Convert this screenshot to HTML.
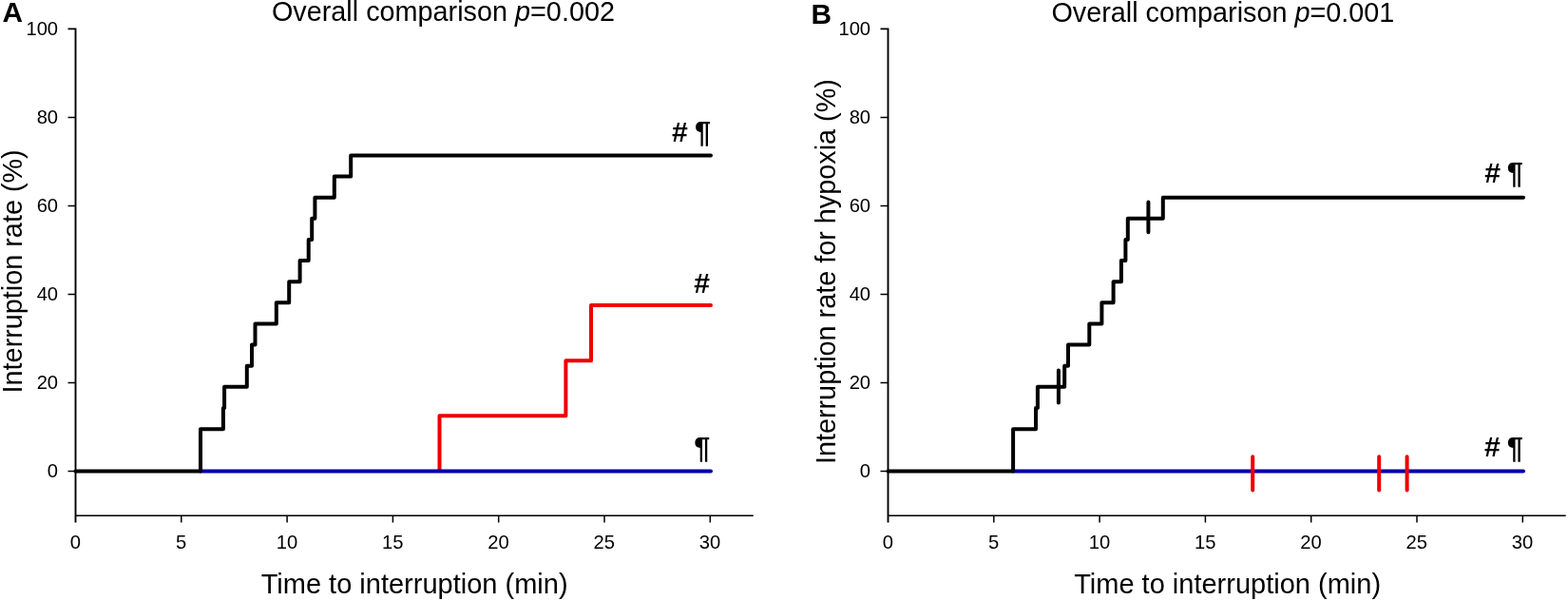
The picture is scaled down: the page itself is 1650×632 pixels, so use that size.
<!DOCTYPE html>
<html><head><meta charset="utf-8"><title>Interruption rate curves</title>
<style>
html,body{margin:0;padding:0;background:#fff;width:1650px;height:632px;overflow:hidden}
svg{display:block}
text{font-family:"Liberation Sans",Arial,sans-serif;fill:#000}
.tk{font-size:20.2px}
.ti{font-size:28.8px}
.pl{font-size:29.8px;font-weight:bold}
.mk{font-size:30.2px;font-weight:bold}
.pk{font-size:30.5px;font-weight:bold}
.xt{font-size:29px}
</style></head><body>
<svg width="1650" height="632" viewBox="0 0 1650 632">
<rect width="1650" height="632" fill="#fff"/>
<path d="M71.50,30.40H79.5V549.50" stroke="#000" stroke-width="1.9" fill="none" stroke-linejoin="miter"/>
<path d="M79.5,542.3H792.8" stroke="#000" stroke-width="1.6" fill="none"/>
<path d="M71.50,495.40H79.5M71.50,402.40H79.5M71.50,309.40H79.5M71.50,216.40H79.5M71.50,123.40H79.5M190.80,542.3V549.50M302.10,542.3V549.50M413.40,542.3V549.50M524.70,542.3V549.50M636.00,542.3V549.50M747.30,542.3V549.50" stroke="#000" stroke-width="1.5" fill="none"/>
<text x="61.10" y="501.50" text-anchor="end" class="tk">0</text>
<text x="61.10" y="408.50" text-anchor="end" class="tk">20</text>
<text x="61.10" y="315.50" text-anchor="end" class="tk">40</text>
<text x="61.10" y="222.50" text-anchor="end" class="tk">60</text>
<text x="61.10" y="129.50" text-anchor="end" class="tk">80</text>
<text x="61.10" y="36.50" text-anchor="end" class="tk">100</text>
<text x="79.30" y="576.8" text-anchor="middle" class="tk">0</text>
<text x="190.60" y="576.8" text-anchor="middle" class="tk">5</text>
<text x="301.90" y="576.8" text-anchor="middle" class="tk">10</text>
<text x="413.20" y="576.8" text-anchor="middle" class="tk">15</text>
<text x="524.50" y="576.8" text-anchor="middle" class="tk">20</text>
<text x="635.80" y="576.8" text-anchor="middle" class="tk">25</text>
<text x="747.10" y="576.8" text-anchor="middle" class="tk">30</text>
<path d="M926.50,30.40H934.5V549.50" stroke="#000" stroke-width="1.9" fill="none" stroke-linejoin="miter"/>
<path d="M934.5,542.3H1647.7" stroke="#000" stroke-width="1.6" fill="none"/>
<path d="M926.50,495.40H934.5M926.50,402.40H934.5M926.50,309.40H934.5M926.50,216.40H934.5M926.50,123.40H934.5M1045.80,542.3V549.50M1157.10,542.3V549.50M1268.40,542.3V549.50M1379.70,542.3V549.50M1491.00,542.3V549.50M1602.30,542.3V549.50" stroke="#000" stroke-width="1.5" fill="none"/>
<text x="916.10" y="501.50" text-anchor="end" class="tk">0</text>
<text x="916.10" y="408.50" text-anchor="end" class="tk">20</text>
<text x="916.10" y="315.50" text-anchor="end" class="tk">40</text>
<text x="916.10" y="222.50" text-anchor="end" class="tk">60</text>
<text x="916.10" y="129.50" text-anchor="end" class="tk">80</text>
<text x="916.10" y="36.50" text-anchor="end" class="tk">100</text>
<text x="934.30" y="576.8" text-anchor="middle" class="tk">0</text>
<text x="1045.60" y="576.8" text-anchor="middle" class="tk">5</text>
<text x="1156.90" y="576.8" text-anchor="middle" class="tk">10</text>
<text x="1268.20" y="576.8" text-anchor="middle" class="tk">15</text>
<text x="1379.50" y="576.8" text-anchor="middle" class="tk">20</text>
<text x="1490.80" y="576.8" text-anchor="middle" class="tk">25</text>
<text x="1602.10" y="576.8" text-anchor="middle" class="tk">30</text>
<path d="M462.5,493.90V437.30H595.40V379.20H622.00V321.10H748.00" stroke="#ee0000" stroke-width="4.0" fill="none" stroke-linecap="round" stroke-linejoin="round"/>
<path d="M211.0,495.40H748" stroke="#0000a8" stroke-width="4.0" fill="none" stroke-linecap="round"/>
<path d="M79.5,495.40H211.00V451.13H234.90V429.00H236.10V406.87H259.80V384.73H265.00V362.60H268.50V340.47H290.80V318.33H304.20V296.20H315.60V274.07H324.70V251.93H328.20V229.80H331.40V207.67H351.80V185.53H369.20V163.40H748.00" stroke="#000" stroke-width="4.0" fill="none" stroke-linecap="round" stroke-linejoin="round"/>
<path d="M1066.1,495.40H1603" stroke="#0000a8" stroke-width="4.0" fill="none" stroke-linecap="round"/>
<path d="M934.5,495.40H1066.10V451.13H1090.00V429.00H1091.90V406.87H1120.20V384.73H1124.00V362.60H1146.30V340.47H1159.40V318.33H1171.60V296.20H1179.90V274.07H1184.40V251.93H1186.80V229.80H1223.80V207.67H1603.00" stroke="#000" stroke-width="4.0" fill="none" stroke-linecap="round" stroke-linejoin="round"/>
<path d="M1113.9,389.6V423.4M1208.4,212.5V244.2" stroke="#000" stroke-width="4.0" fill="none" stroke-linecap="round"/>
<path d="M1318.2,480.2V515.6M1451.2,480.2V515.6M1480.6,480.2V515.6" stroke="#ee0000" stroke-width="4.0" fill="none" stroke-linecap="round"/>
<text x="285.96" y="21.5" class="ti">Overall comparison <tspan font-style="italic">p</tspan>=0.002</text>
<text x="1106.4" y="22.8" class="ti">Overall comparison <tspan font-style="italic">p</tspan>=0.001</text>
<text x="274.7" y="623.9" class="ti xt">Time to interruption (min)</text>
<text x="1130.2" y="624.2" class="ti xt">Time to interruption (min)</text>
<text transform="translate(23.0,413.4) rotate(-90)" class="ti">Interruption rate (%)</text>
<text transform="translate(878.5,488.1) rotate(-90)" class="ti">Interruption rate for hypoxia (%)</text>
<text x="2.5" y="22.6" class="pl">A</text>
<text x="853.5" y="25.1" class="pl">B</text>
<text x="707.0" y="148.7" class="mk">#</text>
<text x="730.2" y="307.7" class="mk">#</text>
<text x="1562.2" y="191.6" class="mk">#</text>
<text x="1562.1" y="480.2" class="mk">#</text>
<text x="731.0" y="149.8" class="pk">¶</text>
<text x="730.2" y="481.5" class="pk">¶</text>
<text x="1585.8" y="192.7" class="pk">¶</text>
<text x="1585.8" y="482.0" class="pk">¶</text>
</svg>
</body></html>
